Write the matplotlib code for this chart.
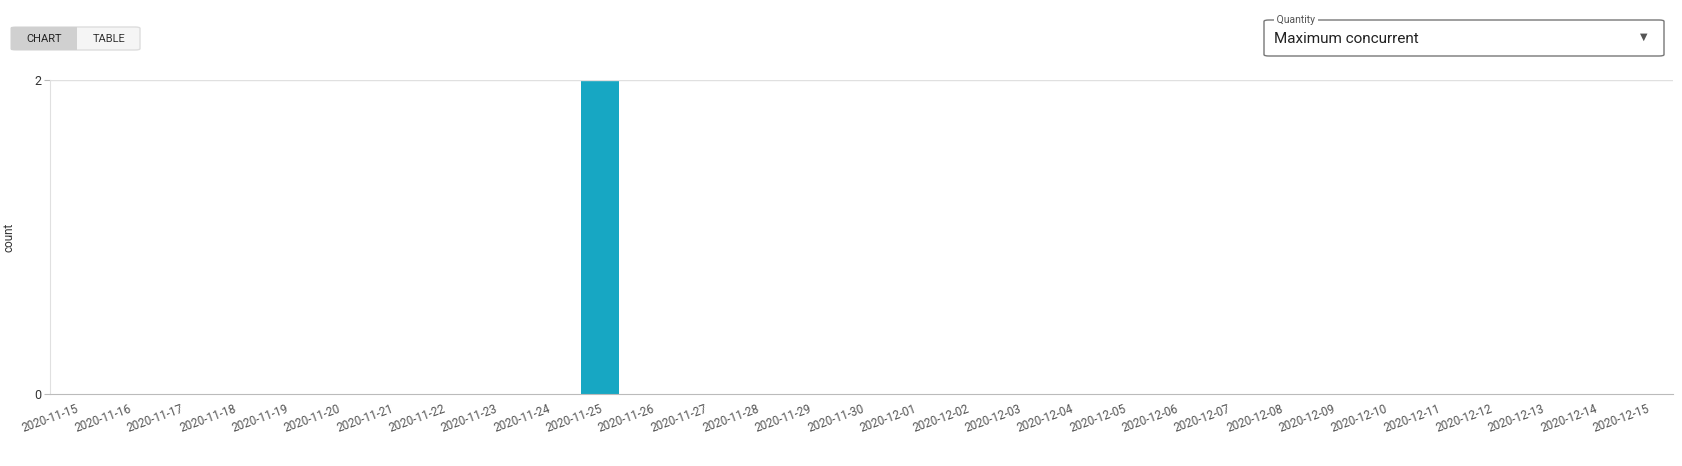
import matplotlib
matplotlib.use("Agg")
import matplotlib.pyplot as plt
from matplotlib.patches import FancyBboxPatch, Rectangle
import pandas as pd

dates = [d.strftime("%Y-%m-%d") for d in pd.date_range("2020-11-15", "2020-12-15")]
counts = [0]*len(dates)
counts[dates.index("2020-11-25")] = 2
y_ticks = [0, 2]

W, H = 1682, 466
fig = plt.figure(figsize=(W/100, H/100), dpi=100)
plt.rcParams['font.family'] = ['Roboto', 'DejaVu Sans']

ax = fig.add_axes([50/W, 1-394/H, (1673-50)/W, (394-80)/H])
x = range(len(dates))
ax.bar(x, counts, width=0.72, color="#17a7c3")
ax.set_xlim(-0.5, len(dates)-0.5)
ax.set_ylim(0, 2)
ax.set_yticks(y_ticks)
ax.set_yticklabels([str(v) for v in y_ticks], fontsize=9, color="#333")
ax.set_xticks(list(x))
ax.set_xticklabels(dates, rotation=20, ha="right", rotation_mode="anchor", fontsize=8.5, color="#555")
ax.tick_params(axis="x", length=0, pad=6)
ax.tick_params(axis="y", length=4, color="#bbb", pad=2)
for s in ["top", "right"]:
    ax.spines[s].set_visible(False)
ax.spines["left"].set_color("#e0e0e0")
ax.spines["bottom"].set_color("#bbb")
ax.axhline(2, color="#e0e0e0", lw=1)
ax.set_ylabel("count", fontsize=8.5, color="#333", labelpad=14)

# toggle buttons
fig.patches.append(FancyBboxPatch((11/W, 1-50/H), 129/W, 23/H, boxstyle="round,pad=0,rounding_size=0.003",
                                  transform=fig.transFigure, fc="#f5f5f5", ec="#dddddd", lw=1))
fig.patches.append(Rectangle((11/W, 1-50/H), 66/W, 23/H, transform=fig.transFigure, fc="#d0d0d0", ec="none"))
fig.text(44/W, 1-38.5/H, "CHART", ha="center", va="center", fontsize=8, color="#222")
fig.text(109/W, 1-38.5/H, "TABLE", ha="center", va="center", fontsize=8, color="#333")

# dropdown
fig.patches.append(FancyBboxPatch((1264/W, 1-56/H), 400/W, 36/H, boxstyle="round,pad=0,rounding_size=0.003",
                                  transform=fig.transFigure, fc="white", ec="#777777", lw=1))
fig.text(1274/W, 1-20/H, " Quantity ", ha="left", va="center", fontsize=7.5, color="#555",
         bbox=dict(fc="white", ec="none", pad=0))
fig.text(1274/W, 1-39/H, "Maximum concurrent", ha="left", va="center", fontsize=11, color="#222")
fig.text(1644/W, 1-37/H, "▼", ha="center", va="center", fontsize=7, color="#555")

fig.savefig("out.png", dpi=100, facecolor="white")
